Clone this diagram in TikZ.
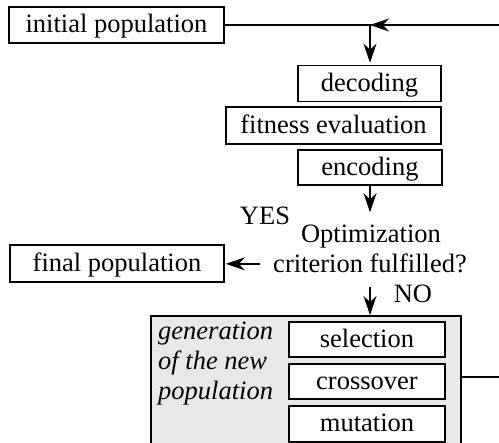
\documentclass[tikz,border=0pt]{standalone}
\usepackage{fontspec}
\setmainfont{Liberation Serif}
\usetikzlibrary{arrows.meta}
\begin{document}
\begin{tikzpicture}[x=1pt,y=-1pt,
  box/.style={draw, fill=white, line width=1.6pt, inner sep=0pt, text height=18pt, text depth=2pt, font=\fontsize{26.5}{30}\selectfont},
  lbl/.style={inner sep=0pt, anchor=base, font=\fontsize{26.5}{30}\selectfont},
  critlbl/.style={inner sep=13pt, anchor=base, font=\fontsize{26.5}{30}\selectfont},
  itl/.style={inner sep=0pt, anchor=base west, font=\fontsize{26.5}{30}\selectfont\itshape},
  conn/.style={line width=1.3pt},
  arr/.style={line width=1.3pt, -{Stealth[length=19pt, width=13pt, inset=6pt]}}]
\useasboundingbox (0,0) rectangle (499,443);
\clip (0,0) rectangle (499,443);
% gray box
\node (genbox) [draw, line width=1.6pt, fill=black!9, minimum width=310pt, minimum height=160pt, anchor=north west, inner sep=0pt] at (150,315) {};
% boxes
\node (init) [box, minimum width=215pt, minimum height=36pt] at (116.5,25) {initial population};
\node (dec) [box, minimum width=143pt, minimum height=36pt] at (369.5,83.5) {decoding};
\node (fit) [box, minimum width=215pt, minimum height=37pt] at (333.5,125.5) {fitness evaluation};
\node (enc) [box, minimum width=144pt, minimum height=35pt] at (370,167.5) {encoding};
\node (final) [box, minimum width=214pt, minimum height=37pt] at (117,263.5) {final population};
\node (sel) [box, minimum width=156pt, minimum height=35pt] at (367,339.5) {selection};
\node (cross) [box, minimum width=156pt, minimum height=35pt] at (367,381.5) {crossover};
\node (mut) [box, minimum width=156pt, minimum height=36pt] at (367,424) {mutation};
% labels
\node (opt) [critlbl] at (371,243) {Optimization};
\node (crit) [critlbl] at (370,273) {criterion fulfilled?};
\node (yes) [lbl] at (265,225) {YES};
\node (no) [lbl] at (413,303) {NO};
\node (g1) [itl] at (158,340) {generation};
\node (g2) [itl] at (158,370) {of the new};
\node (g3) [itl] at (158,400) {population};
% coordinates
\coordinate (topR) at (499,25);
\coordinate (j) at (370,25);
\coordinate (fbR) at (499,377);
% connectors
\draw[conn] (init.east) -- (topR);
\draw[arr] (topR) -- (j);
\draw[arr, shorten >=2pt] (j) -- (j |- dec.north);
\draw[arr] (enc.south) -- (enc.south |- opt.north);
\draw[arr, shorten >=1pt] (crit.west) -- (crit.west -| final.east);
\draw[arr] (crit.south) -- (crit.south |- genbox.north);
\draw[conn] (fbR -| genbox.east) -- (fbR);
\end{tikzpicture}
\end{document}
